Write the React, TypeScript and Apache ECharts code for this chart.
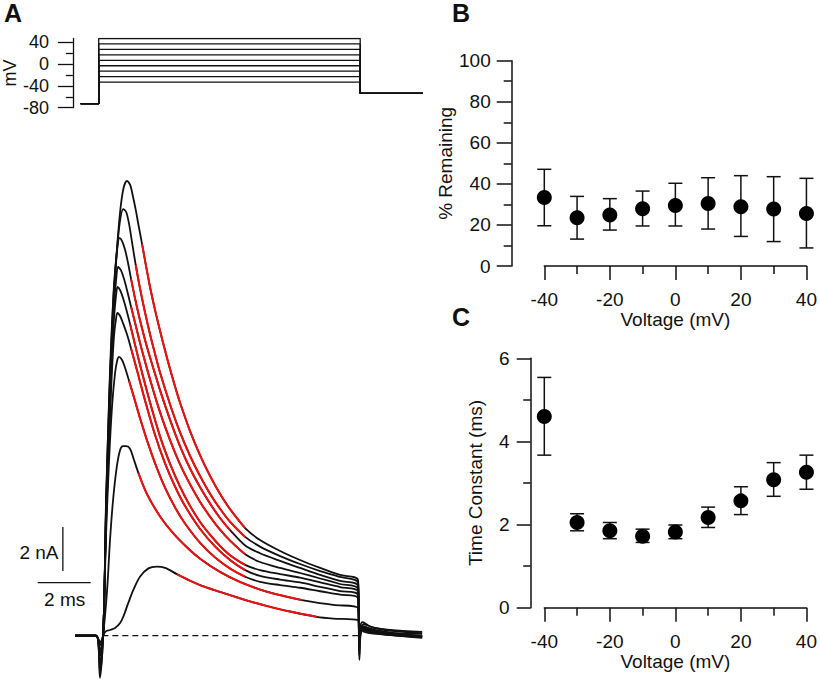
import React, { useEffect, useRef } from 'react';
import * as echarts from 'echarts';

const FONT = '"Liberation Sans", Arial, Helvetica, sans-serif';
const INK = '#111';

// ---- Panel A: voltage protocol (mV, ms) ----
const stepLevels = [-33, -23, -13, -3, 7, 17, 27, 37, 47];
const holdingPotential = -72.6;
const postPotential = -53.7;
const protocolTimes = [-0.69, 0, 10, 12.39]; // hold start, step on, step off, end
const protocolMajorTicks = [-80, -40, 0, 40];
const protocolMinorTicks = [-60, -20, 20];

// ---- Panel A: current traces (time ms, current nA) ----
const traceP40 = [[-0.73,0],[0.06,0],[0.21,-0.29],[0.33,0],[0.44,6.17],[0.52,9.35],[0.59,12.08],[0.705,15.12],[0.84,17.4],[0.97,19.26],[1.10,20.35],[1.23,20.67],[1.35,20.49],[1.46,19.94],[1.57,19.30],[1.65,18.76],[1.80,17.80],[1.95,16.80],[2.10,15.85],[2.29,14.80],[2.48,13.85],[2.67,12.95],[2.86,12.10],[3.05,11.30],[3.23,10.60],[3.61,9.30],[3.99,8.20],[4.37,7.25],[4.74,6.45],[5.12,5.75],[5.69,4.89],[6.25,4.35],[7.01,3.85],[7.76,3.44],[8.52,3.08],[9.27,2.76],[9.95,2.53],[10.0,0.35],[10.11,0.62],[10.45,0.40],[11.16,0.26],[12.37,0.17]];
const traceP30 = [[-0.73,0],[0.06,0],[0.21,-0.42],[0.33,0],[0.44,5.94],[0.57,11.17],[0.69,14.35],[0.82,16.99],[0.95,18.71],[1.09,19.39],[1.20,19.26],[1.31,18.71],[1.42,17.89],[1.56,16.85],[1.72,15.80],[1.91,14.70],[2.10,13.70],[2.29,12.80],[2.48,11.95],[2.86,10.50],[3.23,9.25],[3.61,8.17],[3.99,7.25],[4.37,6.44],[4.74,5.77],[5.12,5.18],[5.69,4.49],[6.25,4.05],[7.01,3.62],[7.76,3.26],[8.52,2.94],[9.27,2.67],[9.95,2.40],[10.0,0.17],[10.15,0.53],[10.56,0.35],[11.34,0.21],[12.37,0.12]];
const traceP20 = [[-0.73,0],[0.06,0],[0.21,-0.65],[0.33,0],[0.44,5.71],[0.555,10.26],[0.65,13.44],[0.74,15.94],[0.857,17.53],[0.95,18.08],[1.045,17.94],[1.16,17.53],[1.27,16.94],[1.385,16.21],[1.54,15.30],[1.72,14.35],[1.99,13.10],[2.29,11.90],[2.48,11.15],[2.86,9.80],[3.23,8.62],[3.61,7.60],[3.99,6.75],[4.37,6.00],[4.74,5.35],[5.12,4.80],[5.69,4.10],[6.25,3.75],[7.01,3.40],[7.76,3.08],[8.52,2.76],[9.27,2.49],[9.95,2.26],[10.0,-0.42],[10.11,0.44],[10.56,0.26],[11.34,0.12],[12.37,0.08]];
const traceP10 = [[-0.73,0],[0.06,0],[0.21,-0.92],[0.33,0],[0.44,5.49],[0.555,9.80],[0.65,12.76],[0.74,15.03],[0.83,16.30],[0.89,16.76],[1.0,16.62],[1.12,16.21],[1.23,15.71],[1.385,14.95],[1.57,14.05],[1.80,12.95],[2.10,11.65],[2.48,10.15],[2.86,8.88],[3.23,7.80],[3.61,6.88],[3.99,6.08],[4.37,5.40],[4.74,4.82],[5.12,4.32],[5.69,3.70],[6.25,3.35],[7.01,3.08],[7.76,2.85],[8.52,2.60],[9.27,2.35],[9.95,2.12],[10.0,-0.2],[10.15,0.40],[10.69,0.21],[11.52,0.08],[12.37,-0.01]];
const traceP0 = [[-0.73,0],[0.06,0],[0.21,-1.29],[0.33,0],[0.44,5.26],[0.555,9.35],[0.65,12.31],[0.74,14.44],[0.82,15.49],[0.875,15.85],[0.97,15.71],[1.08,15.35],[1.20,14.85],[1.35,14.15],[1.57,13.05],[1.80,11.95],[2.10,10.60],[2.48,9.05],[2.86,7.80],[3.23,6.78],[3.61,5.90],[3.99,5.17],[4.37,4.58],[4.74,4.08],[5.12,3.66],[5.69,3.22],[6.25,2.98],[7.01,2.80],[7.76,2.64],[8.52,2.42],[9.27,2.21],[9.95,1.99],[10.0,-0.65],[10.11,0.35],[10.76,0.17],[11.52,0.03],[12.37,-0.06]];
const traceN10 = [[-0.73,0],[0.06,0],[0.21,-1.65],[0.33,0],[0.44,5.03],[0.555,8.90],[0.65,11.71],[0.74,13.62],[0.82,14.44],[0.87,14.67],[0.97,14.53],[1.08,14.21],[1.23,13.70],[1.385,13.05],[1.61,12.05],[1.91,10.70],[2.29,9.12],[2.67,7.82],[3.05,6.76],[3.42,5.90],[3.99,4.85],[4.56,4.05],[5.12,3.44],[5.69,2.98],[6.25,2.72],[7.01,2.55],[7.76,2.42],[8.52,2.22],[9.27,2.03],[9.95,1.85],[10.0,-0.88],[10.11,0.30],[10.76,0.12],[11.52,-0.01],[12.37,-0.06]];
const traceN20 = [[-0.73,0],[0.06,0],[0.21,-1.92],[0.33,0],[0.44,4.58],[0.555,7.99],[0.67,10.49],[0.78,11.94],[0.857,12.49],[0.93,12.67],[1.045,12.53],[1.16,12.17],[1.31,11.58],[1.50,10.81],[1.72,9.90],[2.03,8.72],[2.33,7.71],[2.67,6.72],[3.05,5.82],[3.42,5.10],[3.99,4.22],[4.56,3.55],[5.12,3.05],[5.69,2.68],[6.25,2.45],[7.01,2.30],[7.76,2.18],[8.52,2.02],[9.27,1.87],[9.95,1.71],[10.0,-1.1],[10.11,0.26],[10.76,0.08],[11.52,-0.01],[12.37,-0.1]];
const traceN30 = [[-0.73,0],[0.06,0],[0.21,-0.88],[0.33,0.03],[0.48,2.08],[0.59,4.35],[0.705,6.17],[0.845,7.67],[0.97,8.44],[1.08,8.62],[1.20,8.62],[1.35,8.49],[1.47,8.08],[1.66,7.40],[1.98,6.45],[2.48,5.42],[2.98,4.65],[3.49,4.02],[3.99,3.50],[4.74,2.90],[5.50,2.44],[6.51,2.00],[7.83,1.62],[9.02,1.40],[9.95,1.26],[10.0,-0.2],[10.11,0.26],[10.76,0.12],[11.52,0.03],[12.37,-0.01]];
const traceN40 = [[-0.73,0],[0.064,0],[0.215,-0.42],[0.33,0],[0.44,0.21],[0.59,0.26],[0.78,0.35],[0.97,0.58],[1.09,0.86],[1.28,1.49],[1.47,2.08],[1.72,2.68],[2.04,3.06],[2.35,3.14],[2.67,3.08],[3.11,2.80],[3.61,2.50],[3.99,2.30],[4.56,2.06],[5.23,1.80],[5.87,1.56],[6.51,1.35],[7.38,1.10],[8.39,0.86],[9.01,0.78],[9.95,0.71],[10.0,0.44],[10.19,0.17],[11.16,0.03],[12.37,-0.01]];

const traces = [traceP40, traceP30, traceP20, traceP10, traceP0, traceN10, traceN20, traceN30, traceN40];
const traceNames = ['+40 mV', '+30 mV', '+20 mV', '+10 mV', '0 mV', '-10 mV', '-20 mV', '-30 mV', '-40 mV'];
// exponential-fit windows (ms) drawn in red
const fitStart = [1.80, 1.56, 1.385, 1.385, 1.35, 1.385, 1.31, 1.66, 3.11];
const fitEnd = [5.69, 5.69, 5.5, 5.69, 6.0, 5.69, 5.69, 7.83, 8.39];
const baselineSpan = [0.3, 9.95];
const scaleBarCurrent = [[-1.19, 2.94], [-1.19, 4.94]]; // 2 nA
const scaleBarTime = [[-2.14, 2.41], [-0.14, 2.41]];    // 2 ms

// ---- Panel B / C ----
const voltages = [-40, -30, -20, -10, 0, 10, 20, 30, 40];
const remainingMean = [33.4, 23.5, 24.8, 27.9, 29.5, 30.5, 28.9, 27.8, 25.6];
const remainingLow = [19.6, 13.1, 17.5, 19.5, 19.5, 18.0, 14.4, 11.9, 8.8];
const remainingHigh = [47.1, 33.9, 32.8, 36.5, 40.3, 43.0, 44.0, 43.5, 42.7];
const tauMean = [4.60, 2.05, 1.85, 1.72, 1.82, 2.17, 2.57, 3.08, 3.26];
const tauLow = [3.67, 1.85, 1.66, 1.57, 1.66, 1.93, 2.24, 2.68, 2.85];
const tauHigh = [5.54, 2.26, 2.05, 1.89, 1.99, 2.42, 2.91, 3.49, 3.67];

const axisLineStyle = { color: INK, width: 1.5 };
const labelStyle = { color: INK, fontSize: 19, fontFamily: FONT };

function errorBarSeries(xIdx: number, yIdx: number, lows: number[], highs: number[]) {
  return {
    type: 'custom',
    xAxisIndex: xIdx,
    yAxisIndex: yIdx,
    silent: true,
    encode: { x: 0, y: [1, 2] },
    data: voltages.map((v, i) => [v, lows[i], highs[i]]),
    renderItem: (params: any, api: any) => {
      const x = api.value(0);
      const lo = api.coord([x, api.value(1)]);
      const hi = api.coord([x, api.value(2)]);
      const w = 7;
      const style = { stroke: INK, lineWidth: 1.5 };
      return {
        type: 'group',
        children: [
          { type: 'line', shape: { x1: lo[0], y1: lo[1], x2: hi[0], y2: hi[1] }, style },
          { type: 'line', shape: { x1: lo[0] - w, y1: lo[1], x2: lo[0] + w, y2: lo[1] }, style },
          { type: 'line', shape: { x1: hi[0] - w, y1: hi[1], x2: hi[0] + w, y2: hi[1] }, style },
        ],
      };
    },
    z: 2,
  };
}

function valueXAxis(gridIndex: number) {
  return {
    type: 'value', gridIndex, min: -40, max: 40, interval: 20,
    axisLine: { show: true, onZero: false, lineStyle: axisLineStyle },
    axisTick: { show: true, length: 14, lineStyle: axisLineStyle },
    minorTick: { show: true, splitNumber: 2, length: 8, lineStyle: axisLineStyle },
    axisLabel: { ...labelStyle, margin: 24 },
    splitLine: { show: false },
    name: 'Voltage (mV)', nameLocation: 'middle', nameGap: 43,
    nameTextStyle: { ...labelStyle },
  };
}

function buildOption() {
  const protocolSeries = stepLevels.map((lv) => ({
    type: 'line', xAxisIndex: 0, yAxisIndex: 0, showSymbol: false, silent: true,
    data: [
      [protocolTimes[0], holdingPotential], [protocolTimes[1], holdingPotential],
      [protocolTimes[1], lv], [protocolTimes[2], lv],
      [protocolTimes[2], postPotential], [protocolTimes[3], postPotential],
    ],
    lineStyle: { color: INK, width: 1.3 },
  }));

  const traceSeries = traces.map((tr, i) => ({
    type: 'line', name: traceNames[i], xAxisIndex: 1, yAxisIndex: 2, showSymbol: false, silent: true,
    smooth: 0.3,
    data: tr,
    lineStyle: { color: INK, width: 1.8 },
    z: 3,
  }));

  const fitSeries = traces.map((tr, i) => ({
    type: 'line', name: traceNames[i] + ' fit', xAxisIndex: 1, yAxisIndex: 2, showSymbol: false, silent: true,
    smooth: 0.3,
    data: tr.filter((p) => p[0] >= fitStart[i] && p[0] <= fitEnd[i]),
    lineStyle: { color: '#f01010', width: 2 },
    z: 4,
  }));

  const extraA = [
    {
      type: 'line', xAxisIndex: 1, yAxisIndex: 2, showSymbol: false, silent: true,
      data: [[baselineSpan[0], 0], [baselineSpan[1], 0]],
      lineStyle: { color: INK, width: 1.3, type: [6, 4] }, z: 2,
    },
    {
      type: 'line', xAxisIndex: 1, yAxisIndex: 2, showSymbol: false, silent: true,
      data: scaleBarCurrent, lineStyle: { color: INK, width: 1.3 },
    },
    {
      type: 'line', xAxisIndex: 1, yAxisIndex: 2, showSymbol: false, silent: true,
      data: scaleBarTime, lineStyle: { color: INK, width: 1.3 },
    },
  ];

  return {
    animation: false,
    backgroundColor: '#fff',
    textStyle: { fontFamily: FONT },
    grid: [
      { left: 75, top: 38.5, width: 347.7, height: 69.2 },
      { left: 30, top: 169.3, width: 392.7, height: 510.4 },
      { left: 544.3, top: 60.7, width: 263.4, height: 205.3 },
      { left: 544.3, top: 358.3, width: 263.4, height: 249.4 },
    ],
    xAxis: [
      { type: 'value', gridIndex: 0, min: -0.73, max: 12.39, show: false },
      { type: 'value', gridIndex: 1, min: -2.43, max: 12.39, show: false },
      valueXAxis(2),
      valueXAxis(3),
    ],
    yAxis: [
      {
        type: 'value', gridIndex: 0, min: -80, max: 47, position: 'left', offset: 6.7,
        axisLine: { show: true, onZero: false, lineStyle: { color: INK, width: 1.3 } },
        axisTick: { show: true, length: 15, customValues: protocolMajorTicks, lineStyle: { color: INK, width: 1.3 } },
        axisLabel: { color: INK, fontSize: 18, fontFamily: FONT, margin: 24, customValues: protocolMajorTicks },
        splitLine: { show: false },
        name: 'mV', nameLocation: 'middle', nameGap: 48,
        nameTextStyle: { color: INK, fontSize: 18, fontFamily: FONT },
      },
      {
        type: 'value', gridIndex: 0, min: -80, max: 47, position: 'left', offset: 6.7,
        axisLine: { show: false, onZero: false },
        axisTick: { show: true, length: 7, customValues: protocolMinorTicks, lineStyle: { color: INK, width: 1.3 } },
        axisLabel: { show: false },
        splitLine: { show: false },
      },
      { type: 'value', gridIndex: 1, min: -2, max: 21.2, show: false },
      {
        type: 'value', gridIndex: 2, min: 0, max: 100, interval: 20, offset: 32.6,
        axisLine: { show: true, onZero: false, lineStyle: axisLineStyle },
        axisTick: { show: true, length: 15, lineStyle: axisLineStyle },
        minorTick: { show: true, splitNumber: 2, length: 8, lineStyle: axisLineStyle },
        axisLabel: { ...labelStyle, margin: 21 },
        splitLine: { show: false },
        name: '% Remaining', nameLocation: 'middle', nameGap: 55,
        nameTextStyle: { ...labelStyle },
      },
      {
        type: 'value', gridIndex: 3, min: 0, max: 6, interval: 2, offset: 13.6,
        axisLine: { show: true, onZero: false, lineStyle: axisLineStyle },
        axisTick: { show: true, length: 14, lineStyle: axisLineStyle },
        minorTick: { show: true, splitNumber: 2, length: 7.5, lineStyle: axisLineStyle },
        axisLabel: { ...labelStyle, margin: 21 },
        splitLine: { show: false },
        name: 'Time Constant (ms)', nameLocation: 'middle', nameGap: 46,
        nameTextStyle: { ...labelStyle },
      },
    ],
    graphic: [
      { type: 'text', left: 4, top: 0, style: { text: 'A', font: `bold 25px ${FONT}`, fill: INK } },
      { type: 'text', left: 452, top: 0, style: { text: 'B', font: `bold 25px ${FONT}`, fill: INK } },
      { type: 'text', left: 452, top: 304, style: { text: 'C', font: `bold 25px ${FONT}`, fill: INK } },
      { type: 'text', x: 58.5, y: 552.5, style: { text: '2 nA', font: `19px ${FONT}`, fill: INK, textAlign: 'right', textVerticalAlign: 'middle' } },
      { type: 'text', x: 64.7, y: 599, style: { text: '2 ms', font: `19px ${FONT}`, fill: INK, textAlign: 'center', textVerticalAlign: 'middle' } },
    ],
    series: [
      ...protocolSeries,
      ...extraA,
      ...traceSeries,
      ...fitSeries,
      errorBarSeries(2, 3, remainingLow, remainingHigh),
      {
        type: 'scatter', xAxisIndex: 2, yAxisIndex: 3, symbol: 'circle', symbolSize: 15, silent: true,
        data: voltages.map((v, i) => [v, remainingMean[i]]),
        itemStyle: { color: '#000', opacity: 1 }, z: 3,
      },
      errorBarSeries(3, 4, tauLow, tauHigh),
      {
        type: 'scatter', xAxisIndex: 3, yAxisIndex: 4, symbol: 'circle', symbolSize: 15, silent: true,
        data: voltages.map((v, i) => [v, tauMean[i]]),
        itemStyle: { color: '#000', opacity: 1 }, z: 3,
      },
    ],
  };
}

export default function App() {
  const ref = useRef<HTMLDivElement>(null);
  useEffect(() => {
    if (!ref.current) return;
    const chart = echarts.init(ref.current, null, { renderer: 'svg' });
    chart.setOption(buildOption() as any);
    return () => chart.dispose();
  }, []);
  return (
    <div
      ref={ref}
      style={{ position: 'fixed', left: 0, top: 0, width: 820, height: 682, background: '#fff' }}
    />
  );
}
